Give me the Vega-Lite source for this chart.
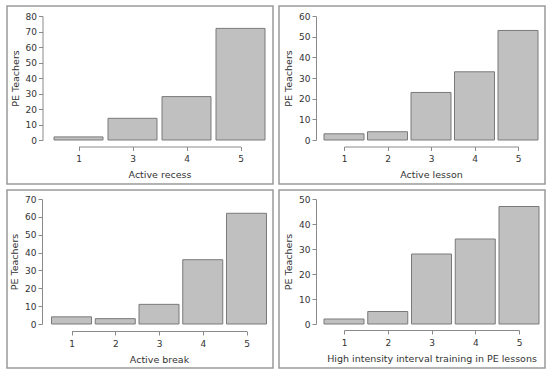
{
  "$schema": "https://vega.github.io/schema/vega-lite/v6.json",
  "padding": {"left": 6, "top": 5, "right": 0, "bottom": 0},
  "background": "white",
  "data": {"values": [
    {"panel": "Active recess", "category": "1", "teachers": 2},
    {"panel": "Active recess", "category": "3", "teachers": 14},
    {"panel": "Active recess", "category": "4", "teachers": 28},
    {"panel": "Active recess", "category": "5", "teachers": 72},
    {"panel": "Active lesson", "category": "1", "teachers": 3},
    {"panel": "Active lesson", "category": "2", "teachers": 4},
    {"panel": "Active lesson", "category": "3", "teachers": 23},
    {"panel": "Active lesson", "category": "4", "teachers": 33},
    {"panel": "Active lesson", "category": "5", "teachers": 53},
    {"panel": "Active break", "category": "1", "teachers": 4},
    {"panel": "Active break", "category": "2", "teachers": 3},
    {"panel": "Active break", "category": "3", "teachers": 11},
    {"panel": "Active break", "category": "4", "teachers": 36},
    {"panel": "Active break", "category": "5", "teachers": 62},
    {"panel": "HIIT", "category": "1", "teachers": 2},
    {"panel": "HIIT", "category": "2", "teachers": 5},
    {"panel": "HIIT", "category": "3", "teachers": 28},
    {"panel": "HIIT", "category": "4", "teachers": 34},
    {"panel": "HIIT", "category": "5", "teachers": 47}
  ]},
  "vconcat": [
    {"hconcat": [
      {
        "width": 266, "height": 178,
        "transform": [{"filter": "datum.panel == 'Active recess'"}],
        "mark": {"type": "bar", "width": 49, "fill": "#c0c0c0", "stroke": "#7a7a7a", "strokeWidth": 1},
        "encoding": {
          "x": {"field": "category", "type": "ordinal", "scale": {"type": "point", "range": [71.5, 233.5], "padding": 0}, "axis": {"title": "Active recess", "offset": -37.5}},
          "y": {"field": "teachers", "type": "quantitative", "scale": {"domain": [0, 80], "range": [134, 10], "nice": false}, "axis": {"title": "PE Teachers", "offset": -35.5, "values": [0, 10, 20, 30, 40, 50, 60, 70, 80]}}
        }
      },
      {
        "width": 266, "height": 178,
        "transform": [{"filter": "datum.panel == 'Active lesson'"}],
        "mark": {"type": "bar", "width": 40, "fill": "#c0c0c0", "stroke": "#7a7a7a", "strokeWidth": 1},
        "encoding": {
          "x": {"field": "category", "type": "ordinal", "scale": {"type": "point", "range": [65, 239], "padding": 0}, "axis": {"title": "Active lesson", "offset": -37.5}},
          "y": {"field": "teachers", "type": "quantitative", "scale": {"domain": [0, 60], "range": [134, 10], "nice": false}, "axis": {"title": "PE Teachers", "offset": -37, "values": [0, 10, 20, 30, 40, 50, 60]}}
        }
      }
    ]},
    {"hconcat": [
      {
        "width": 266, "height": 178,
        "transform": [{"filter": "datum.panel == 'Active break'"}],
        "mark": {"type": "bar", "width": 40, "fill": "#c0c0c0", "stroke": "#7a7a7a", "strokeWidth": 1},
        "encoding": {
          "x": {"field": "category", "type": "ordinal", "scale": {"type": "point", "range": [64.5, 239.5], "padding": 0}, "axis": {"title": "Active break", "offset": -37}},
          "y": {"field": "teachers", "type": "quantitative", "scale": {"domain": [0, 70], "range": [134, 9], "nice": false}, "axis": {"title": "PE Teachers", "offset": -35, "values": [0, 10, 20, 30, 40, 50, 60, 70]}}
        }
      },
      {
        "width": 266, "height": 178,
        "transform": [{"filter": "datum.panel == 'HIIT'"}],
        "mark": {"type": "bar", "width": 40, "fill": "#c0c0c0", "stroke": "#7a7a7a", "strokeWidth": 1},
        "encoding": {
          "x": {"field": "category", "type": "ordinal", "scale": {"type": "point", "range": [65, 240], "padding": 0}, "axis": {"title": "High intensity interval training in PE lessons", "offset": -38}},
          "y": {"field": "teachers", "type": "quantitative", "scale": {"domain": [0, 50], "range": [134, 9], "nice": false}, "axis": {"title": "PE Teachers", "offset": -37, "values": [0, 10, 20, 30, 40, 50]}}
        }
      }
    ]}
  ],
  "config": {
    "view": {"stroke": "#9a9a9a", "strokeWidth": 1.5},
    "concat": {"spacing": 4},
    "axis": {
      "grid": false,
      "domainColor": "#8a8a8a",
      "tickColor": "#8a8a8a",
      "tickSize": 4,
      "labelFont": "DejaVu Sans",
      "labelFontSize": 9,
      "labelColor": "#333333",
      "labelPadding": 2,
      "titleFont": "DejaVu Sans",
      "titleFontSize": 9.5,
      "titleFontWeight": "normal",
      "titleColor": "#333333",
      "titlePadding": 5
    },
    "axisX": {"labelAngle": 0, "labelPadding": 4, "titlePadding": 6}
  }
}
